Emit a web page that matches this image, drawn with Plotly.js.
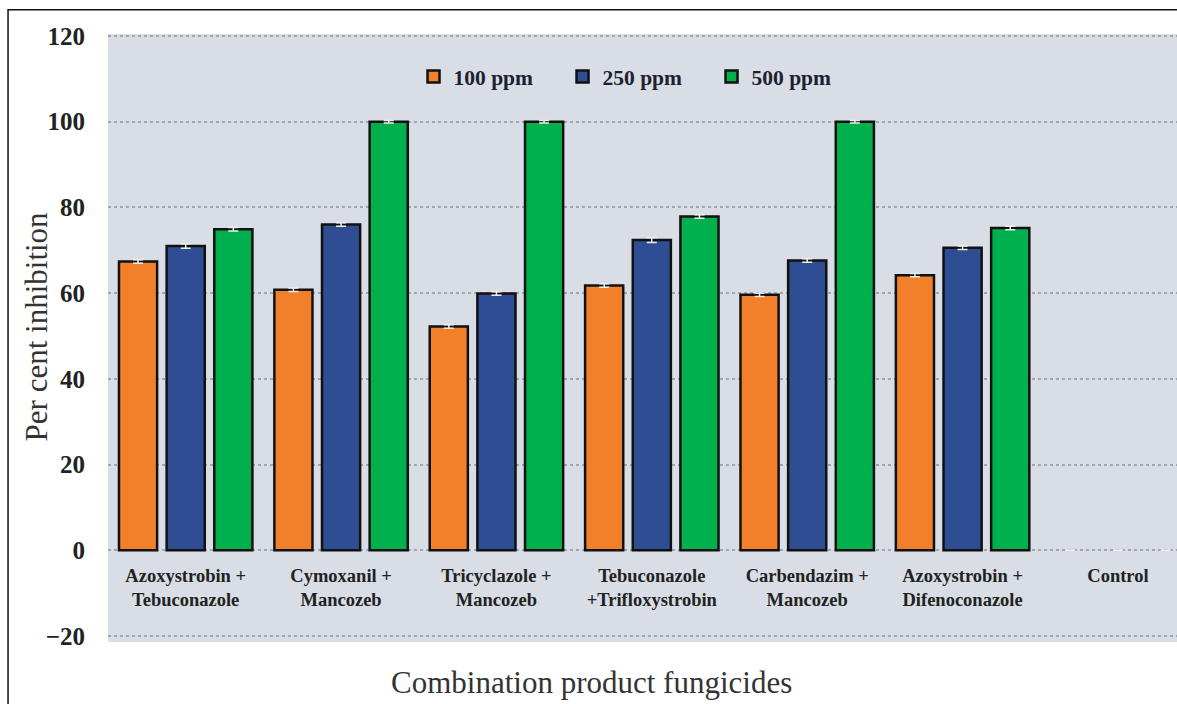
<!DOCTYPE html>
<html>
<head>
<meta charset="utf-8">
<script src="https://cdn.plot.ly/plotly-3.0.1.min.js"></script>
<style>html,body{margin:0;padding:0;background:#fff;}#chart{width:1177px;height:704px;}</style>
</head>
<body>
<div id="chart"></div>
<script>
const categories = [
  "Azoxystrobin +<br>Tebuconazole",
  "Cymoxanil +<br>Mancozeb",
  "Tricyclazole +<br>Mancozeb",
  "Tebuconazole<br>+Trifloxystrobin",
  "Carbendazim +<br>Mancozeb",
  "Azoxystrobin +<br>Difenoconazole",
  "Control"
];
const seriesNames = ["100 ppm", "250 ppm", "500 ppm"];
const ppm100 = [67.4, 60.8, 52.2, 61.8, 59.6, 64.2, 0];
const ppm250 = [71.0, 76.0, 59.9, 72.4, 67.6, 70.6, 0];
const ppm500 = [74.9, 100, 100, 77.9, 100, 75.2, 0];
const err100 = [0.4, 0.4, 0.4, 0.4, 0.4, 0.4, 0];
const err250 = [0.5, 0.4, 0.4, 0.6, 0.4, 0.4, 0];
const err500 = [0.4, 0.3, 0.3, 0.4, 0.3, 0.4, 0];
const yTicks = [-20, 0, 20, 40, 60, 80, 100, 120];
const xTitle = "Combination product fungicides";
const yTitle = "Per cent inhibition";

const colors = ["#f27f2a", "#2e4d92", "#00b04f"];
const serif = "Liberation Serif, Times New Roman, serif";
const vals = [ppm100, ppm250, ppm500];
const errs = [err100, err250, err500];
const yRange = [-21.4, 120.47];
const xAxisPos = (0 - yRange[0]) / (yRange[1] - yRange[0]);

const data = vals.map((v, i) => ({
  type: "bar",
  name: seriesNames[i],
  x: categories,
  y: v,
  marker: {
    color: colors[i],
    line: { color: "#111111", width: categories.map(c => c === "Control" ? 0 : 2.5) }
  },
  error_y: { type: "data", array: errs[i], visible: true, color: "#eeeeee", thickness: 1.5, width: 5 }
}));

const layout = {
  width: 1177,
  height: 704,
  margin: { l: 108, r: 0, t: 34, b: 62 },
  paper_bgcolor: "#ffffff",
  plot_bgcolor: "#d9dde5",
  barmode: "group",
  bargap: 0.08,
  bargroupgap: 0.2,
  showlegend: true,
  legend: {
    orientation: "h",
    x: 0.2858, xanchor: "left",
    y: 0.93, yanchor: "middle",
    bgcolor: "rgba(0,0,0,0)",
    font: { family: serif, size: 21.5, color: "#1e2230", weight: "bold" },
    itemwidth: 30,
    entrywidth: 104,
    traceorder: "normal"
  },
  xaxis: {
    type: "category",
    range: [-0.5, 6.38],
    anchor: "free",
    position: xAxisPos,
    showline: false,
    showgrid: false,
    zeroline: false,
    ticks: "",
    ticklabelstandoff: 12,
    tickangle: 0,
    tickfont: { family: serif, size: 18.5, color: "#222222", weight: "bold" }
  },
  yaxis: {
    range: yRange,
    tickvals: yTicks,
    showgrid: true,
    gridcolor: "#a3a6ad",
    gridwidth: 2,
    griddash: "dot",
    zeroline: false,
    showline: false,
    ticks: "",
    ticklabelstandoff: 22,
    tickfont: { family: serif, size: 25, color: "#222222", weight: "bold" }
  },
  annotations: [
    {
      text: xTitle,
      xref: "paper", yref: "paper",
      x: 0.452, y: -0.066,
      xanchor: "center", yanchor: "middle",
      showarrow: false,
      font: { family: serif, size: 31, color: "#333333" }
    },
    {
      text: yTitle,
      xref: "paper", yref: "paper",
      x: -0.0674, y: 0.519,
      xanchor: "center", yanchor: "middle",
      textangle: -90,
      showarrow: false,
      font: { family: serif, size: 31, color: "#333333" }
    }
  ],
  shapes: [
    {
      type: "rect", xref: "paper", yref: "paper",
      x0: -0.0935, x1: 1.05, y0: 1.040, y1: -0.2,
      line: { color: "#111111", width: 1.5 },
      fillcolor: "rgba(0,0,0,0)",
      layer: "above"
    }
  ]
};

Plotly.newPlot("chart", data, layout, { displayModeBar: false, staticPlot: true });
</script>
</body>
</html>
